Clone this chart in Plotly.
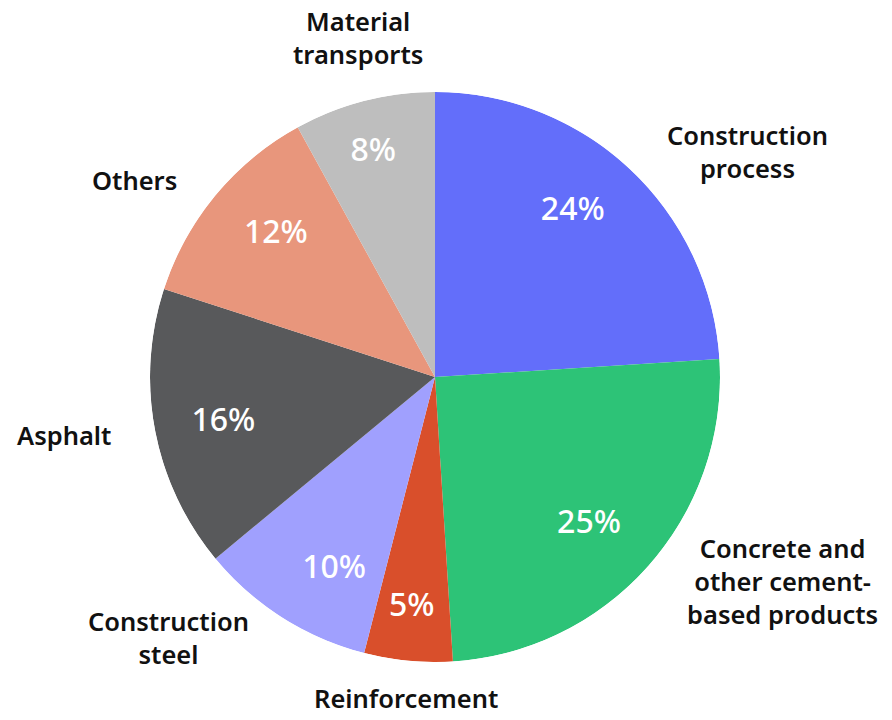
import math
import plotly.graph_objects as go

labels = ["Construction<br>process", "Concrete and<br>other cement-<br>based products",
          "Reinforcement", "Construction<br>steel", "Asphalt", "Others", "Material<br>transports"]
values = [24, 25, 5, 10, 16, 12, 8]
colors = ["#636efa", "#2dc377", "#d94f2b", "#a0a0fe", "#58595b", "#e8967c", "#bebebe"]

total = sum(values)
widths = [v / total * 360 for v in values]
mids = []
acc = 0.0
for w in widths:
    mids.append(acc + w / 2)
    acc += w
pct_text = [f"{round(v / total * 100)}%" for v in values]

# layout geometry (pixels)
W, H = 892, 720
CX, CY, R = 435, 377, 285
PCT_R = 0.87
LINE_OUT = 24    # radial distance of label anchor beyond the rim
SIDE_GAP = 18    # horizontal gap for side labels
TOP_SHIFT = 5    # vertical shift for the top label
BOTTOM_SHIFT = 6 # vertical shift for the bottom label


def inward(deg):
    s, c = math.sin(math.radians(deg)), math.cos(math.radians(deg))
    v = "bottom" if c > 0.38 else ("top" if c < -0.38 else "middle")
    h = "left" if s > 0.38 else ("right" if s < -0.38 else "center")
    return f"{v} {h}"


fig = go.Figure()
fig.add_trace(go.Barpolar(
    r=[1] * len(values), theta=mids, width=widths, base=0,
    marker=dict(color=colors, line=dict(width=0)),
    showlegend=False, hoverinfo="skip",
))
fig.add_trace(go.Scatterpolar(
    r=[PCT_R] * len(values), theta=mids, mode="text", text=pct_text,
    textposition=[inward(m) for m in mids],
    textfont=dict(family="Noto Sans", size=32, color="white", weight=500),
    cliponaxis=False, showlegend=False, hoverinfo="skip",
))

label_font = dict(family="Noto Sans", size=25.5, color="#111111", weight=600)
for lab, m in zip(labels, mids):
    s, c = math.sin(math.radians(m)), math.cos(math.radians(m))
    px = CX + (R + LINE_OUT) * s
    py = CY - (R + LINE_OUT) * c
    if s > 0.38:
        xa, ya, xs, ys = "left", "middle", SIDE_GAP, 0
    elif s < -0.38:
        xa, ya, xs, ys = "right", "middle", -SIDE_GAP, 0
    elif c > 0:
        xa, ya, xs, ys = "center", "bottom", 0, TOP_SHIFT
    else:
        xa, ya, xs, ys = "center", "top", 0, BOTTOM_SHIFT
    fig.add_annotation(
        x=px / W, y=1 - py / H, xref="paper", yref="paper",
        text=lab, showarrow=False, xanchor=xa, yanchor=ya, align="center",
        xshift=xs, yshift=ys, font=label_font,
    )

fig.update_layout(
    width=W, height=H,
    margin=dict(t=0, b=0, l=0, r=0),
    paper_bgcolor="white",
    polar=dict(
        domain=dict(x=[(CX - R) / W, (CX + R) / W],
                    y=[(H - CY - R) / H, (H - CY + R) / H]),
        bgcolor="rgba(0,0,0,0)", bargap=0, hole=0,
        radialaxis=dict(range=[0, 1], visible=False),
        angularaxis=dict(rotation=90, direction="clockwise", visible=False),
    ),
)
fig.write_html("out.html")
